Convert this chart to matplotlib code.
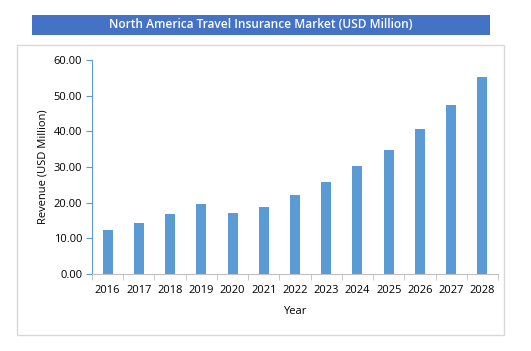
import numpy as np
import matplotlib.pyplot as plt
from matplotlib.patches import Rectangle

years = ['2016', '2017', '2018', '2019', '2020', '2021', '2022',
         '2023', '2024', '2025', '2026', '2027', '2028']
revenue = [12.3, 14.4, 16.9, 19.7, 17.2, 18.9, 22.2,
           25.9, 30.2, 34.7, 40.6, 47.3, 55.2]
yticks = [0, 10, 20, 30, 40, 50, 60]

plt.rcParams['font.family'] = ['Open Sans', 'DejaVu Sans']

fig = plt.figure(figsize=(5.31, 3.51), dpi=100)

# outer frame and title banner
fig.patches.append(Rectangle((17 / 531, 1 - 335 / 351), 487 / 531, 290 / 351,
                             transform=fig.transFigure, fill=False,
                             edgecolor='#D9D9D9', linewidth=1))
fig.patches.append(Rectangle((32 / 531, 1 - 35 / 351), 458 / 531, 20 / 351,
                             transform=fig.transFigure, facecolor='#4472C4',
                             edgecolor='none'))
fig.text(261 / 531, 1 - 25 / 351, 'North America Travel Insurance Market (USD Million)',
         ha='center', va='center', color='white', fontsize=8.6, fontweight='semibold')

ax = fig.add_axes([92 / 531, 1 - 274 / 351, 406 / 531, 214 / 351])
x = np.arange(len(years))
ax.bar(x, revenue, width=0.32, color='#5B9BD5')

ax.set_xlim(-0.5, len(years) - 0.5)
ax.set_ylim(0, 60)
ax.set_yticks(yticks)
ax.set_yticklabels([f'{v:.2f}' for v in yticks], fontsize=8)
ax.set_xticks(x)
ax.set_xticklabels(years, fontsize=8)
ax.set_xticks(np.arange(len(years) + 1) - 0.5, minor=True)
ax.tick_params(axis='x', which='major', length=0, pad=8)
ax.tick_params(axis='x', which='minor', length=4, color='#BFBFBF')
ax.tick_params(axis='y', length=4, color='#5B9BD5', pad=3)

for s in ['top', 'right']:
    ax.spines[s].set_visible(False)
ax.spines['left'].set_color('#5B9BD5')
ax.spines['bottom'].set_color('#BFBFBF')

ax.set_ylabel('Revenue (USD Million)', fontsize=8, labelpad=4)
ax.set_xlabel('Year', fontsize=8, labelpad=7)

fig.savefig('out.png', dpi=100)
